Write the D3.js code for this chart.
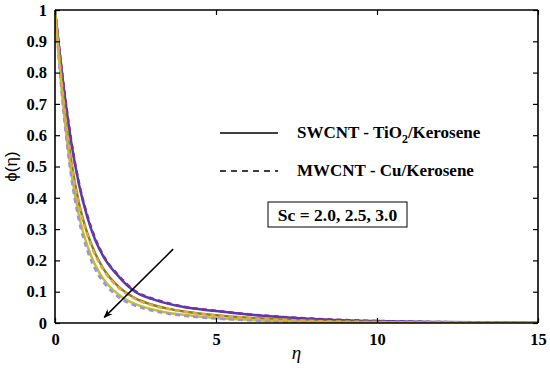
<!DOCTYPE html>
<html><head><meta charset="utf-8">
<script src="https://cdn.jsdelivr.net/npm/d3@7"></script>
<style>body{margin:0;background:#fff}svg{display:block}</style>
</head><body>
<svg id="c" width="550" height="368"></svg>
<script>
const eta = [0,0.25,0.5,0.75,1,1.25,1.5,2,2.5,3,3.5,4,5,6,7,8,10,12,15];
const sc20Solid  = [1,0.77,0.58,0.44,0.34,0.265,0.213,0.146,0.099,0.077,0.062,0.051,0.038,0.027,0.019,0.013,0.006,0.003,0.001];
const sc20Dashed = [1,0.775,0.585,0.445,0.345,0.27,0.216,0.149,0.101,0.079,0.064,0.052,0.039,0.028,0.02,0.014,0.0065,0.003,0.001];
const sc25Solid  = [1,0.73,0.52,0.38,0.288,0.222,0.174,0.114,0.079,0.059,0.046,0.037,0.025,0.017,0.011,0.007,0.003,0.0015,0.0005];
const sc25Dashed = [1,0.725,0.515,0.375,0.283,0.217,0.17,0.111,0.077,0.057,0.045,0.036,0.024,0.016,0.0105,0.0065,0.003,0.0013,0.0004];
const sc30Solid  = [1,0.70,0.485,0.34,0.248,0.185,0.141,0.089,0.06,0.044,0.033,0.026,0.016,0.01,0.006,0.0035,0.0015,0.0006,0.0002];
const sc30Dashed = [1,0.69,0.47,0.325,0.233,0.172,0.131,0.081,0.055,0.04,0.03,0.023,0.014,0.009,0.005,0.003,0.001,0.0005,0];
const series = [
  {name:"Sc=2.0 SWCNT", values:sc20Solid,  color:"#4a3fb8", dash:null},
  {name:"Sc=2.0 MWCNT", values:sc20Dashed, color:"#7b2f9a", dash:"5,4"},
  {name:"Sc=2.5 SWCNT", values:sc25Solid,  color:"#858225", dash:null},
  {name:"Sc=3.0 SWCNT", values:sc30Solid,  color:"#bcc42c", dash:null},
  {name:"Sc=3.0 MWCNT", values:sc30Dashed, color:"#9d90e6", dash:"5,4"},
  {name:"Sc=2.5 MWCNT", values:sc25Dashed, color:"#eaa43a", dash:"5,4"}
];
const xTicks = [0,5,10,15];
const yTicks = [0,0.1,0.2,0.3,0.4,0.5,0.6,0.7,0.8,0.9,1];
const legendItems = [
  {label:"SWCNT - TiO", sub:"2", rest:"/Kerosene", dash:null},
  {label:"MWCNT - Cu/Kerosene", sub:null, rest:null, dash:"6,5"}
];
const scLabel = "Sc = 2.0, 2.5, 3.0";
const arrowFrom = [3.67, 0.236], arrowTo = [1.53, 0.018];

const svg = d3.select("#c");
const L=55, R=538, T=10, B=323;
const x = d3.scaleLinear().domain([0,15]).range([L,R]);
const y = d3.scaleLinear().domain([0,1]).range([B,T]);
const serif = "'Liberation Serif','Times New Roman',serif";

const defs = svg.append("defs");
defs.append("marker").attr("id","ah").attr("viewBox","0 0 10 10").attr("refX",9).attr("refY",5)
  .attr("markerWidth",10).attr("markerHeight",9).attr("orient","auto").attr("markerUnits","userSpaceOnUse")
  .append("path").attr("d","M0,1 L10,5 L0,9 L3,5 Z").attr("fill","#000");
defs.append("clipPath").attr("id","clip").append("rect").attr("x",L).attr("y",T-2).attr("width",R-L).attr("height",B-T+2);

// curves
const line = d3.line().x((d,i)=>x(eta[i])).y(d=>y(d)).curve(d3.curveMonotoneX);
const g = svg.append("g").attr("clip-path","url(#clip)");
series.forEach(s=>{
  g.append("path").attr("d",line(s.values)).attr("fill","none").attr("stroke",s.color)
    .attr("stroke-width",2.5).attr("stroke-dasharray",s.dash);
});

// axes
const tickLen = 5;
const axB = svg.append("g").attr("transform",`translate(0,${B})`)
  .call(d3.axisBottom(x).tickValues(xTicks).tickSize(-tickLen).tickPadding(10).tickFormat(d3.format("d")));
const axT = svg.append("g").attr("transform",`translate(0,${T})`)
  .call(d3.axisTop(x).tickValues(xTicks).tickSize(-tickLen).tickFormat(""));
const axL = svg.append("g").attr("transform",`translate(${L},0)`)
  .call(d3.axisLeft(y).tickValues(yTicks).tickSize(-tickLen).tickPadding(8).tickFormat(d=>d===0?"0":d===1?"1":d3.format(".1f")(d)));
const axR = svg.append("g").attr("transform",`translate(${R},0)`)
  .call(d3.axisRight(y).tickValues(yTicks).tickSize(-tickLen).tickFormat(""));
[axB,axT,axL,axR].forEach(a=>{
  a.select(".domain").attr("stroke","#000").attr("stroke-width",1.6);
  a.selectAll(".tick line").attr("stroke","#000").attr("stroke-width",1.2);
  a.selectAll(".tick text").attr("font-family",serif).attr("font-weight","bold").attr("font-size",16.5).attr("fill","#000");
});
axB.selectAll(".domain").attr("d",`M${L},0H${R}`);
axT.selectAll(".domain").attr("d",`M${L},0H${R}`);
axL.selectAll(".domain").attr("d",`M0,${B}V${T}`);
axR.selectAll(".domain").attr("d",`M0,${B}V${T}`);

// axis titles
svg.append("text").attr("x",(L+R)/2).attr("y",359).attr("text-anchor","middle")
  .attr("font-family",serif).attr("font-style","italic").attr("font-size",19).text("η");
svg.append("text").attr("transform",`translate(17,${(T+B)/2}) rotate(-90)`).attr("text-anchor","middle")
  .attr("font-family","'Liberation Sans',Arial,sans-serif").attr("font-size",17).text("ϕ(η)");

// legend
const legY = [133, 171];
legendItems.forEach((it,i)=>{
  svg.append("line").attr("x1",220).attr("x2",278).attr("y1",legY[i]).attr("y2",legY[i])
    .attr("stroke","#000").attr("stroke-width",1.6).attr("stroke-dasharray",it.dash);
  const t = svg.append("text").attr("x",297).attr("y",legY[i]+5).attr("font-family",serif)
    .attr("font-weight","bold").attr("font-size",17);
  t.append("tspan").text(it.label);
  if(it.sub){
    t.append("tspan").attr("dy",5).attr("font-size",12).text(it.sub);
    t.append("tspan").attr("dy",-5).text(it.rest);
  }
});

// Sc box
svg.append("rect").attr("x",268).attr("y",202).attr("width",139).attr("height",25)
  .attr("fill","none").attr("stroke","#000").attr("stroke-width",1);
svg.append("text").attr("x",337.5).attr("y",220.5).attr("text-anchor","middle").attr("font-family",serif)
  .attr("font-weight","bold").attr("font-size",17.5).text(scLabel);

// arrow
svg.append("line").attr("x1",x(arrowFrom[0])).attr("y1",y(arrowFrom[1]))
  .attr("x2",x(arrowTo[0])).attr("y2",y(arrowTo[1]))
  .attr("stroke","#000").attr("stroke-width",1.5).attr("marker-end","url(#ah)");
</script>
</body></html>
